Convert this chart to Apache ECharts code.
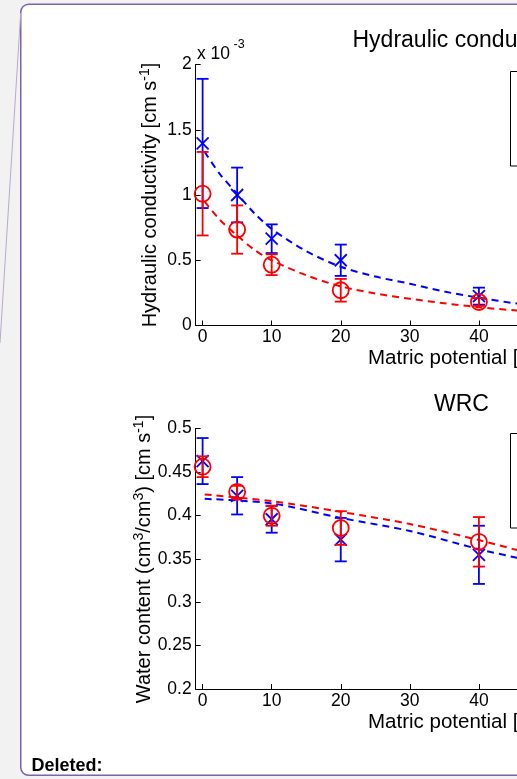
<!DOCTYPE html>
<html>
<head>
<meta charset="utf-8">
<style>html,body{margin:0;padding:0;background:#f2f2f2;}#c{width:517px;height:779px;}</style>
<script src="https://cdn.jsdelivr.net/npm/echarts@6/dist/echarts.min.js"></script>
</head>
<body>
<div id="c"></div>
<script>
// ---------- data ----------
const xPoints = [0, 5, 10, 20, 40];
const xTicks = [0, 10, 20, 30, 40, 50, 60, 70];

// Hydraulic conductivity (x 10^-3 cm s^-1)
const hcBlue    = [1.395, 1.00, 0.665, 0.50, 0.225];
const hcBlueErr = [0.495, 0.21, 0.11, 0.12, 0.065];
const hcRed     = [1.01, 0.735, 0.466, 0.27, 0.18];
const hcRedErr  = [0.32, 0.185, 0.08, 0.087, 0.03];
const hcFitX    = [0.3, 2.5, 5, 7.5, 10, 15, 20, 25, 30, 35, 40, 45.5, 50];
const hcFitBlue = [1.33, 1.16, 1.01, 0.86, 0.74, 0.57, 0.45, 0.375, 0.32, 0.26, 0.213, 0.168, 0.14];
const hcFitRed  = [0.95, 0.81, 0.69, 0.58, 0.50, 0.385, 0.30, 0.245, 0.205, 0.17, 0.14, 0.115, 0.098];

// Water retention curve
const wrBlue    = [0.4625, 0.4225, 0.3955, 0.372, 0.3545];
const wrBlueErr = [0.0265, 0.0215, 0.0155, 0.025, 0.0335];
const wrRed     = [0.456, 0.427, 0.3995, 0.3854, 0.3695];
const wrRedErr  = [0.012, 0.007, 0.0115, 0.0194, 0.0285];
const wrFitX    = [0.3, 10, 20, 30, 40, 45.5, 50];
const wrFitBlue = [0.419, 0.4137, 0.397, 0.382, 0.361, 0.351, 0.342];
const wrFitRed  = [0.424, 0.4164, 0.404, 0.39, 0.3715, 0.360, 0.350];

// ---------- chart ----------
const FONT = '"Liberation Sans", Arial, sans-serif';
const BLUE = '#0000ff', RED = '#ff0000';
const zip = (xs, ys) => xs.map((x, i) => [x, ys[i]]);

function errSeries(ai, xs, ys, es, color, marker) {
  return {
    type: 'custom', xAxisIndex: ai, yAxisIndex: ai, z: 3,
    data: xs.map((x, i) => [x, ys[i], es[i]]),
    encode: { x: 0, y: 1 },
    renderItem: function (params, api) {
      const x = api.value(0), y = api.value(1), e = api.value(2);
      const c = api.coord([x, y]), t = api.coord([x, y + e]), b = api.coord([x, y - e]);
      const st = { stroke: color, lineWidth: 1.8, fill: 'none' };
      const w = 6;
      const ch = [
        { type: 'line', shape: { x1: c[0], y1: t[1], x2: c[0], y2: b[1] }, style: st },
        { type: 'line', shape: { x1: c[0] - w, y1: t[1], x2: c[0] + w, y2: t[1] }, style: st },
        { type: 'line', shape: { x1: c[0] - w, y1: b[1], x2: c[0] + w, y2: b[1] }, style: st }
      ];
      if (marker === 'x') {
        const m = 6;
        ch.push({ type: 'line', shape: { x1: c[0] - m, y1: c[1] - m, x2: c[0] + m, y2: c[1] + m }, style: st });
        ch.push({ type: 'line', shape: { x1: c[0] - m, y1: c[1] + m, x2: c[0] + m, y2: c[1] - m }, style: st });
      } else {
        ch.push({ type: 'circle', shape: { cx: c[0], cy: c[1], r: 8 }, style: st });
      }
      return { type: 'group', children: ch };
    }
  };
}
function fitSeries(ai, xs, ys, color) {
  return {
    type: 'line', xAxisIndex: ai, yAxisIndex: ai, z: 2,
    data: zip(xs, ys), smooth: 0.3, symbol: 'none', showSymbol: false,
    lineStyle: { color: color, width: 2, type: [7, 5] }
  };
}
function xAxisOpt(gi) {
  return {
    type: 'value', gridIndex: gi, min: -1, max: 75,
    axisLine: { show: true, onZero: false, lineStyle: { color: '#000', width: 1 } },
    axisTick: { show: true, inside: true, length: 5, customValues: xTicks, lineStyle: { color: '#000' } },
    axisLabel: { customValues: xTicks, margin: 3, fontSize: 17.5, color: '#000', fontFamily: FONT },
    splitLine: { show: false }
  };
}
function yAxisOpt(gi, min, max, itv) {
  return {
    type: 'value', gridIndex: gi, min: min, max: max, interval: itv,
    axisLine: { show: true, onZero: false, lineStyle: { color: '#000', width: 1 } },
    axisTick: { show: true, inside: true, length: 5, lineStyle: { color: '#000' } },
    axisLabel: { margin: 4, fontSize: 17.5, color: '#000', fontFamily: FONT },
    splitLine: { show: false }
  };
}
const richY = {
  n: { fontSize: 20, fontFamily: FONT, color: '#000', lineHeight: 24, verticalAlign: 'middle' },
  s: { fontSize: 14, fontFamily: FONT, color: '#000', lineHeight: 10, verticalAlign: 'top' }
};
function txt(x, y, s, size, align) {
  return { type: 'text', x: x, y: y, z: 5,
    style: { text: s, fontSize: size, fontFamily: FONT, fill: '#000', align: align, verticalAlign: 'middle' } };
}

const chart = echarts.init(document.getElementById('c'), null, { renderer: 'canvas' });
chart.setOption({
  animation: false,
  backgroundColor: '#f2f2f2',
  grid: [
    { left: 195.7, top: 64.5, width: 525, height: 261, containLabel: false, outerBoundsMode: 'none' },
    { left: 195.7, top: 428.5, width: 525, height: 260.5, containLabel: false, outerBoundsMode: 'none' }
  ],
  xAxis: [xAxisOpt(0), xAxisOpt(1)],
  yAxis: [yAxisOpt(0, 0, 2, 0.5), yAxisOpt(1, 0.2, 0.5, 0.05)],
  graphic: [
    { type: 'rect', z: -10, shape: { x: 20.75, y: 4.25, width: 620, height: 771, r: 8 },
      style: { fill: '#ffffff', stroke: '#7f62a3', lineWidth: 1.5 } },
    { type: 'line', z: -9, shape: { x1: 20.7, y1: 13, x2: 0, y2: 343 },
      style: { stroke: '#b9a8cf', lineWidth: 1 } },
    { type: 'rect', z: 1, shape: { x: 510.5, y: 71.5, width: 300, height: 94.5 },
      style: { fill: '#ffffff', stroke: '#000', lineWidth: 1 } },
    { type: 'rect', z: 1, shape: { x: 510.5, y: 433.5, width: 300, height: 94.5 },
      style: { fill: '#ffffff', stroke: '#000', lineWidth: 1 } },
    txt(352.5, 41, 'Hydraulic conductivity', 23, 'left'),
    txt(461.5, 405, 'WRC', 23, 'center'),
    txt(197, 54, 'x 10', 17.5, 'left'),
    txt(233.5, 45, '-3', 12.5, 'left'),
    txt(368, 358.5, 'Matric potential [cm]', 20.5, 'left'),
    txt(368, 722, 'Matric potential [cm]', 20.5, 'left'),
    { type: 'text', x: 150.5, y: 195, rotation: Math.PI / 2, z: 5,
      style: { text: '{n|Hydraulic conductivity [cm s}{s|-1}{n|]}', rich: richY, align: 'center', verticalAlign: 'middle' } },
    { type: 'text', x: 144, y: 559, rotation: Math.PI / 2, z: 5,
      style: { text: '{n|Water content (cm}{s|3}{n|/cm}{s|3}{n|) [cm s}{s|-1}{n|]}', rich: richY, align: 'center', verticalAlign: 'middle' } },
    { type: 'text', x: 31.5, y: 766.5, z: 5,
      style: { text: 'Deleted:', fontSize: 18, fontWeight: 'bold', fontFamily: FONT, fill: '#000', align: 'left', verticalAlign: 'middle' } }
  ],
  series: [
    fitSeries(0, hcFitX, hcFitBlue, BLUE),
    fitSeries(0, hcFitX, hcFitRed, RED),
    errSeries(0, xPoints, hcBlue, hcBlueErr, BLUE, 'x'),
    errSeries(0, xPoints, hcRed, hcRedErr, RED, 'o'),
    fitSeries(1, wrFitX, wrFitBlue, BLUE),
    fitSeries(1, wrFitX, wrFitRed, RED),
    errSeries(1, xPoints, wrBlue, wrBlueErr, BLUE, 'x'),
    errSeries(1, xPoints, wrRed, wrRedErr, RED, 'o')
  ]
});
</script>
</body>
</html>
